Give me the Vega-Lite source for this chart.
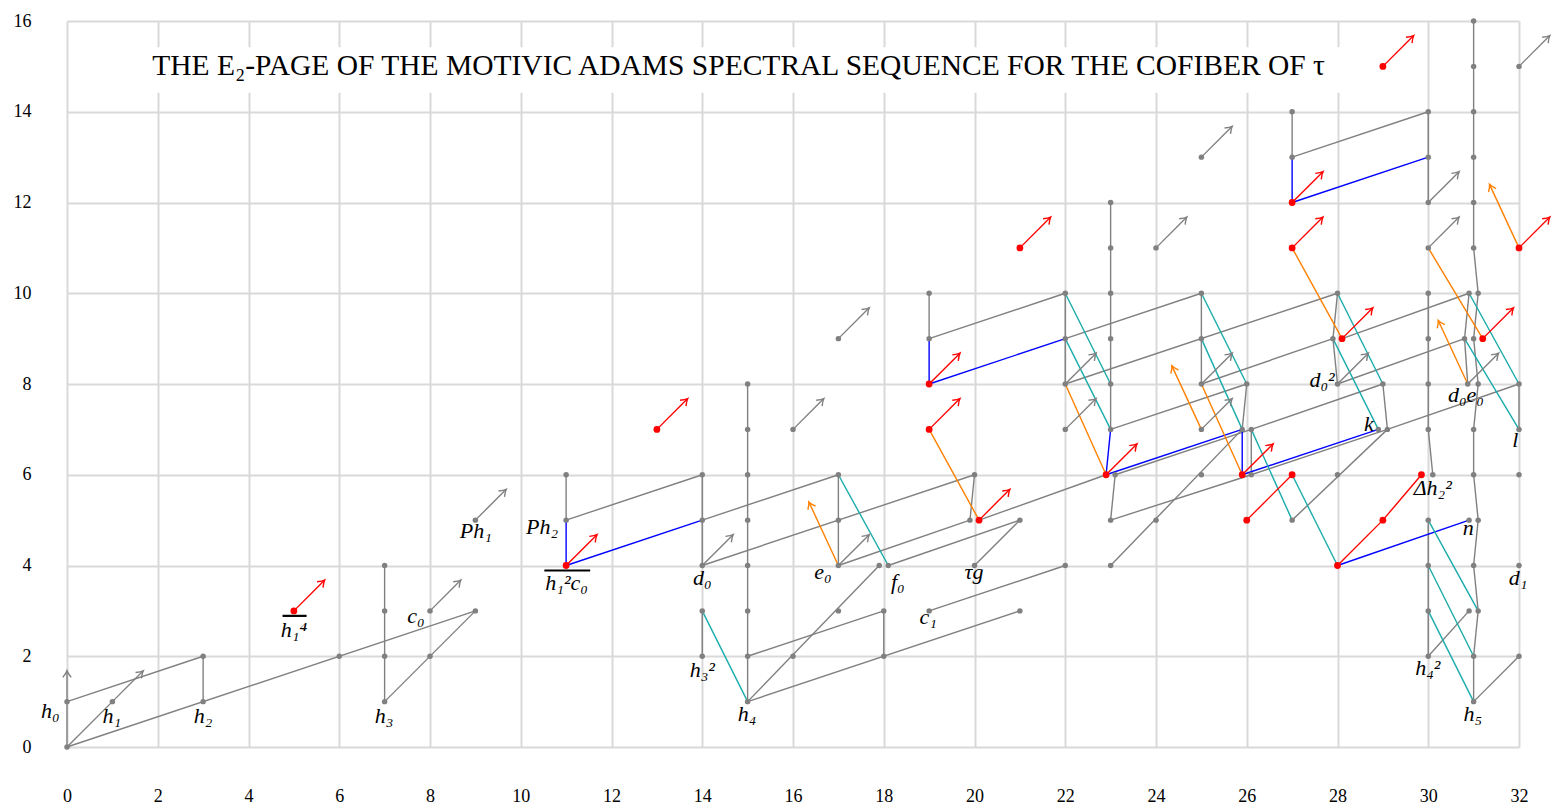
{
  "$schema": "https://vega.github.io/schema/vega-lite/v6.json",
  "width": 1452,
  "height": 726,
  "autosize": {"type": "none"},
  "padding": {"left": 67, "top": 21, "right": 34, "bottom": 62},
  "background": "white",
  "config": {"view": {"stroke": null}},
  "datasets": {
    "box": [{"s": 1.3, "s2": 28.55, "f": 14.42, "f2": 15.42}],
    "title": [{"t": "THE E₂-PAGE OF THE MOTIVIC ADAMS SPECTRAL SEQUENCE FOR THE COFIBER OF τ", "s": 14.8, "f": 15.0}],
    "pts": [
      {"s":0,"f":0,"c":"g"},{"s":0,"f":1,"c":"g"},{"s":1,"f":1,"c":"g"},{"s":3,"f":1,"c":"g"},{"s":3,"f":2,"c":"g"},{"s":6,"f":2,"c":"g"},{"s":7,"f":1,"c":"g"},{"s":7,"f":2,"c":"g"},{"s":7,"f":3,"c":"g"},{"s":7,"f":4,"c":"g"},{"s":8,"f":2,"c":"g"},{"s":8,"f":3,"c":"g"},{"s":9,"f":3,"c":"g"},{"s":9,"f":5,"c":"g"},
      {"s":11,"f":5,"c":"g"},{"s":11,"f":6,"c":"g"},{"s":14,"f":2,"c":"g"},{"s":14,"f":3,"c":"g"},{"s":14,"f":4,"c":"g"},{"s":14,"f":5,"c":"g"},{"s":14,"f":6,"c":"g"},
      {"s":15,"f":1,"c":"g"},{"s":15,"f":2,"c":"g"},{"s":15,"f":3,"c":"g"},{"s":15,"f":4,"c":"g"},{"s":15,"f":5,"c":"g"},{"s":15,"f":6,"c":"g"},{"s":15,"f":7,"c":"g"},{"s":15,"f":8,"c":"g"},
      {"s":16,"f":2,"c":"g"},{"s":16,"f":7,"c":"g"},{"s":17,"f":3,"c":"g"},{"s":17,"f":4,"c":"g"},{"s":17,"f":5,"c":"g"},{"s":17,"f":6,"c":"g"},{"s":17,"f":9,"c":"g"},
      {"s":17.9,"f":4,"c":"g"},{"s":18.1,"f":4,"c":"g"},{"s":18,"f":2,"c":"g"},{"s":18,"f":3,"c":"g"},{"s":19,"f":3,"c":"g"},{"s":19,"f":9,"c":"g"},{"s":19,"f":10,"c":"g"},
      {"s":19.9,"f":5,"c":"g"},{"s":20,"f":4,"c":"g"},{"s":20,"f":6,"c":"g"},{"s":21,"f":3,"c":"g"},{"s":21,"f":5,"c":"g"},
      {"s":22,"f":4,"c":"g"},{"s":22,"f":7,"c":"g"},{"s":22,"f":8,"c":"g"},{"s":22,"f":9,"c":"g"},{"s":22,"f":10,"c":"g"},
      {"s":23,"f":4,"c":"g"},{"s":23,"f":5,"c":"g"},{"s":23.1,"f":6,"c":"g"},{"s":23,"f":7,"c":"g"},{"s":23,"f":8,"c":"g"},{"s":23,"f":9,"c":"g"},{"s":23,"f":10,"c":"g"},{"s":23,"f":11,"c":"g"},{"s":23,"f":12,"c":"g"},
      {"s":24,"f":5,"c":"g"},{"s":24,"f":11,"c":"g"},{"s":25,"f":6,"c":"g"},{"s":25,"f":7,"c":"g"},{"s":25,"f":8,"c":"g"},{"s":25,"f":9,"c":"g"},{"s":25,"f":10,"c":"g"},{"s":25,"f":13,"c":"g"},
      {"s":25.9,"f":7,"c":"g"},{"s":26.1,"f":7,"c":"g"},{"s":26.1,"f":6,"c":"g"},{"s":26,"f":8,"c":"g"},
      {"s":27,"f":5,"c":"g"},{"s":27,"f":13,"c":"g"},{"s":27,"f":14,"c":"g"},{"s":28,"f":6,"c":"g"},{"s":28,"f":8,"c":"g"},{"s":27.9,"f":9,"c":"g"},{"s":28,"f":10,"c":"g"},
      {"s":28.9,"f":7,"c":"g"},{"s":29.1,"f":7,"c":"g"},{"s":29,"f":8,"c":"g"},
      {"s":30,"f":2,"c":"g"},{"s":30,"f":3,"c":"g"},{"s":30,"f":4,"c":"g"},{"s":30,"f":5,"c":"g"},{"s":30.1,"f":6,"c":"g"},{"s":30,"f":7,"c":"g"},{"s":30,"f":8,"c":"g"},{"s":30,"f":9,"c":"g"},{"s":30,"f":10,"c":"g"},{"s":30,"f":11,"c":"g"},{"s":30,"f":12,"c":"g"},{"s":30,"f":13,"c":"g"},{"s":30,"f":14,"c":"g"},
      {"s":30.9,"f":3,"c":"g"},{"s":30.9,"f":5,"c":"g"},{"s":30.87,"f":8,"c":"g"},{"s":30.8,"f":9,"c":"g"},{"s":30.9,"f":10,"c":"g"},
      {"s":31,"f":1,"c":"g"},{"s":31,"f":2,"c":"g"},{"s":31.1,"f":3,"c":"g"},{"s":31,"f":4,"c":"g"},{"s":31.1,"f":5,"c":"g"},{"s":31,"f":6,"c":"g"},{"s":31,"f":7,"c":"g"},{"s":31.1,"f":8,"c":"g"},{"s":31,"f":9,"c":"g"},{"s":31.1,"f":10,"c":"g"},{"s":31,"f":11,"c":"g"},{"s":31,"f":12,"c":"g"},{"s":31,"f":13,"c":"g"},{"s":31,"f":14,"c":"g"},{"s":31,"f":15,"c":"g"},{"s":31,"f":16,"c":"g"},
      {"s":32,"f":2,"c":"g"},{"s":32,"f":4,"c":"g"},{"s":32,"f":6,"c":"g"},{"s":32,"f":7,"c":"g"},{"s":32,"f":8,"c":"g"},{"s":32,"f":15,"c":"g"},
      {"s":5,"f":3,"c":"r"},{"s":11,"f":4,"c":"r"},{"s":13,"f":7,"c":"r"},{"s":19,"f":7,"c":"r"},{"s":19,"f":8,"c":"r"},{"s":20.1,"f":5,"c":"r"},{"s":21,"f":11,"c":"r"},{"s":22.9,"f":6,"c":"r"},{"s":25.9,"f":6,"c":"r"},{"s":26,"f":5,"c":"r"},{"s":27,"f":6,"c":"r"},{"s":27,"f":11,"c":"r"},{"s":27,"f":12,"c":"r"},{"s":28,"f":4,"c":"r"},{"s":28.1,"f":9,"c":"r"},{"s":29,"f":5,"c":"r"},{"s":29,"f":15,"c":"r"},{"s":29.85,"f":6,"c":"r"},{"s":31.2,"f":9,"c":"r"},{"s":32,"f":11,"c":"r"}
    ],
    "edges": [
      {"s":0,"f":0,"s2":0,"f2":1,"c":"g"},{"s":0,"f":0,"s2":1,"f2":1,"c":"g"},{"s":0,"f":0,"s2":9,"f2":3,"c":"g"},{"s":0,"f":1,"s2":3,"f2":2,"c":"g"},{"s":3,"f":1,"s2":3,"f2":2,"c":"g"},{"s":7,"f":1,"s2":7,"f2":4,"c":"g"},{"s":7,"f":1,"s2":9,"f2":3,"c":"g"},
      {"s":11,"f":5,"s2":11,"f2":6,"c":"g"},{"s":11,"f":5,"s2":14,"f2":6,"c":"g"},
      {"s":14,"f":2,"s2":14,"f2":3,"c":"g"},{"s":14,"f":4,"s2":14,"f2":6,"c":"g"},{"s":14,"f":4,"s2":20,"f2":6,"c":"g"},{"s":14,"f":5,"s2":17,"f2":6,"c":"g"},
      {"s":15,"f":1,"s2":15,"f2":8,"c":"g"},{"s":15,"f":1,"s2":17.9,"f2":4,"c":"g"},{"s":15,"f":1,"s2":21,"f2":3,"c":"g"},{"s":15,"f":2,"s2":18,"f2":3,"c":"g"},{"s":18,"f":2,"s2":18,"f2":3,"c":"g"},
      {"s":17,"f":4,"s2":17,"f2":6,"c":"g"},{"s":17,"f":4,"s2":19.9,"f2":5,"c":"g"},{"s":18.1,"f":4,"s2":21,"f2":5,"c":"g"},{"s":19,"f":3,"s2":22,"f2":4,"c":"g"},{"s":20,"f":4,"s2":21,"f2":5,"c":"g"},{"s":20,"f":6,"s2":19.9,"f2":5,"c":"g"},
      {"s":19,"f":9,"s2":19,"f2":10,"c":"g"},{"s":19,"f":9,"s2":22,"f2":10,"c":"g"},{"s":20.1,"f":5,"s2":22.9,"f2":6,"c":"g"},
      {"s":22,"f":8,"s2":22,"f2":10,"c":"g"},{"s":22,"f":9,"s2":25,"f2":10,"c":"g"},{"s":22,"f":8,"s2":28,"f2":10,"c":"g"},
      {"s":23,"f":7,"s2":23,"f2":12,"c":"g"},{"s":23,"f":7,"s2":26,"f2":8,"c":"g"},{"s":23.1,"f":6,"s2":23,"f2":5,"c":"g"},{"s":23,"f":5,"s2":26.1,"f2":6,"c":"g"},{"s":23.1,"f":6,"s2":26.1,"f2":7,"c":"g"},{"s":23,"f":4,"s2":25.9,"f2":7,"c":"g"},
      {"s":25,"f":8,"s2":25,"f2":10,"c":"g"},{"s":25,"f":8,"s2":27.9,"f2":9,"c":"g"},{"s":26,"f":8,"s2":25.9,"f2":7,"c":"g"},{"s":26.1,"f":6,"s2":26.1,"f2":7,"c":"g"},{"s":26.1,"f":7,"s2":29,"f2":8,"c":"g"},{"s":26.1,"f":6,"s2":29.1,"f2":7,"c":"g"},
      {"s":27,"f":13,"s2":27,"f2":14,"c":"g"},{"s":27,"f":13,"s2":30,"f2":14,"c":"g"},{"s":27,"f":5,"s2":29.1,"f2":7,"c":"g"},
      {"s":28,"f":10,"s2":27.9,"f2":9,"c":"g"},{"s":27.9,"f":9,"s2":28,"f2":8,"c":"g"},{"s":28,"f":8,"s2":30.8,"f2":9,"c":"g"},{"s":28.1,"f":9,"s2":30.9,"f2":10,"c":"g"},
      {"s":29,"f":8,"s2":29.1,"f2":7,"c":"g"},{"s":29.1,"f":7,"s2":32,"f2":8,"c":"g"},
      {"s":30,"f":12,"s2":30,"f2":14,"c":"g"},{"s":30,"f":7,"s2":30,"f2":10,"c":"g"},{"s":30,"f":7,"s2":30.1,"f2":6,"c":"g"},{"s":30,"f":2,"s2":30,"f2":5,"c":"g"},{"s":30,"f":2,"s2":30.9,"f2":3,"c":"g"},
      {"s":30.9,"f":10,"s2":30.8,"f2":9,"c":"g"},{"s":30.8,"f":9,"s2":30.87,"f2":8,"c":"g"},
      {"s":31,"f":1,"s2":31,"f2":2,"c":"g"},{"s":31,"f":2,"s2":31.1,"f2":3,"c":"g"},{"s":31.1,"f":3,"s2":31,"f2":4,"c":"g"},{"s":31,"f":4,"s2":31.1,"f2":5,"c":"g"},{"s":31.1,"f":5,"s2":31,"f2":6,"c":"g"},{"s":31,"f":6,"s2":31,"f2":7,"c":"g"},{"s":31,"f":7,"s2":31.1,"f2":8,"c":"g"},{"s":31.1,"f":8,"s2":31,"f2":9,"c":"g"},{"s":31,"f":9,"s2":31.1,"f2":10,"c":"g"},{"s":31.1,"f":10,"s2":31,"f2":11,"c":"g"},{"s":31,"f":11,"s2":31,"f2":16,"c":"g"},
      {"s":32,"f":7,"s2":32,"f2":8,"c":"g"},{"s":31,"f":1,"s2":32,"f2":2,"c":"g"},
      {"s":11,"f":4,"s2":11,"f2":5,"c":"b"},{"s":11,"f":4,"s2":14,"f2":5,"c":"b"},{"s":19,"f":8,"s2":19,"f2":9,"c":"b"},{"s":19,"f":8,"s2":22,"f2":9,"c":"b"},{"s":22.9,"f":6,"s2":23,"f2":7,"c":"b"},{"s":22.9,"f":6,"s2":25.9,"f2":7,"c":"b"},{"s":25.9,"f":6,"s2":25.9,"f2":7,"c":"b"},{"s":25.9,"f":6,"s2":28.9,"f2":7,"c":"b"},{"s":27,"f":12,"s2":27,"f2":13,"c":"b"},{"s":27,"f":12,"s2":30,"f2":13,"c":"b"},{"s":28,"f":4,"s2":30.9,"f2":5,"c":"b"},
      {"s":14,"f":3,"s2":15,"f2":1,"c":"c"},{"s":17,"f":6,"s2":18.1,"f2":4,"c":"c"},{"s":22,"f":10,"s2":23,"f2":8,"c":"c"},{"s":22,"f":9,"s2":23,"f2":7,"c":"c"},{"s":25,"f":10,"s2":26,"f2":8,"c":"c"},{"s":25,"f":9,"s2":25.9,"f2":7,"c":"c"},{"s":26.1,"f":7,"s2":27,"f2":5,"c":"c"},{"s":27,"f":6,"s2":28,"f2":4,"c":"c"},{"s":28,"f":10,"s2":29,"f2":8,"c":"c"},{"s":27.9,"f":9,"s2":28.9,"f2":7,"c":"c"},{"s":30.9,"f":10,"s2":32,"f2":8,"c":"c"},{"s":30.8,"f":9,"s2":32,"f2":7,"c":"c"},{"s":30,"f":5,"s2":31.1,"f2":3,"c":"c"},{"s":30,"f":4,"s2":31,"f2":2,"c":"c"},{"s":30,"f":3,"s2":31,"f2":1,"c":"c"},
      {"s":19,"f":7,"s2":20.1,"f2":5,"c":"o"},{"s":22,"f":8,"s2":22.9,"f2":6,"c":"o"},{"s":25,"f":8,"s2":25.9,"f2":6,"c":"o"},{"s":27,"f":11,"s2":28.1,"f2":9,"c":"o"},{"s":30,"f":11,"s2":31.2,"f2":9,"c":"o"},
      {"s":26,"f":5,"s2":27,"f2":6,"c":"r"},{"s":28,"f":4,"s2":29,"f2":5,"c":"r"},{"s":29,"f":5,"s2":29.85,"f2":6,"c":"r"}
    ],
    "arrows": [
      {"s":0,"f":1,"s2":0,"f2":1.68,"c":"g","dir":"n"},
      {"s":1,"f":1,"s2":1.68,"f2":1.68,"c":"g","dir":"ne"},{"s":8,"f":3,"s2":8.68,"f2":3.68,"c":"g","dir":"ne"},{"s":9,"f":5,"s2":9.68,"f2":5.68,"c":"g","dir":"ne"},{"s":14,"f":4,"s2":14.68,"f2":4.68,"c":"g","dir":"ne"},{"s":16,"f":7,"s2":16.68,"f2":7.68,"c":"g","dir":"ne"},{"s":17,"f":9,"s2":17.68,"f2":9.68,"c":"g","dir":"ne"},{"s":17,"f":4,"s2":17.68,"f2":4.68,"c":"g","dir":"ne"},{"s":22,"f":8,"s2":22.68,"f2":8.68,"c":"g","dir":"ne"},{"s":22,"f":7,"s2":22.68,"f2":7.68,"c":"g","dir":"ne"},{"s":24,"f":11,"s2":24.68,"f2":11.68,"c":"g","dir":"ne"},{"s":25,"f":13,"s2":25.68,"f2":13.68,"c":"g","dir":"ne"},{"s":25,"f":8,"s2":25.68,"f2":8.68,"c":"g","dir":"ne"},{"s":25,"f":7,"s2":25.68,"f2":7.68,"c":"g","dir":"ne"},{"s":28,"f":8,"s2":28.68,"f2":8.68,"c":"g","dir":"ne"},{"s":30,"f":12,"s2":30.68,"f2":12.68,"c":"g","dir":"ne"},{"s":30,"f":11,"s2":30.68,"f2":11.68,"c":"g","dir":"ne"},{"s":30.87,"f":8,"s2":31.55,"f2":8.68,"c":"g","dir":"ne"},{"s":32,"f":15,"s2":32.68,"f2":15.68,"c":"g","dir":"ne"},
      {"s":5,"f":3,"s2":5.68,"f2":3.68,"c":"r","dir":"ne"},{"s":11,"f":4,"s2":11.68,"f2":4.68,"c":"r","dir":"ne"},{"s":13,"f":7,"s2":13.68,"f2":7.68,"c":"r","dir":"ne"},{"s":19,"f":8,"s2":19.68,"f2":8.68,"c":"r","dir":"ne"},{"s":19,"f":7,"s2":19.68,"f2":7.68,"c":"r","dir":"ne"},{"s":20.1,"f":5,"s2":20.78,"f2":5.68,"c":"r","dir":"ne"},{"s":21,"f":11,"s2":21.68,"f2":11.68,"c":"r","dir":"ne"},{"s":22.9,"f":6,"s2":23.58,"f2":6.68,"c":"r","dir":"ne"},{"s":25.9,"f":6,"s2":26.58,"f2":6.68,"c":"r","dir":"ne"},{"s":27,"f":12,"s2":27.68,"f2":12.68,"c":"r","dir":"ne"},{"s":27,"f":11,"s2":27.68,"f2":11.68,"c":"r","dir":"ne"},{"s":28.1,"f":9,"s2":28.78,"f2":9.68,"c":"r","dir":"ne"},{"s":29,"f":15,"s2":29.68,"f2":15.68,"c":"r","dir":"ne"},{"s":31.2,"f":9,"s2":31.88,"f2":9.68,"c":"r","dir":"ne"},{"s":32,"f":11,"s2":32.68,"f2":11.68,"c":"r","dir":"ne"},
      {"s":17,"f":4,"s2":16.35,"f2":5.4,"c":"o","dir":"nw"},{"s":25,"f":7,"s2":24.35,"f2":8.4,"c":"o","dir":"nw"},{"s":30.87,"f":8,"s2":30.22,"f2":9.4,"c":"o","dir":"nw"},{"s":32,"f":11,"s2":31.35,"f2":12.4,"c":"o","dir":"nw"}
    ],
    "labels": [
      {"t":"h₀","s":-0.37,"f":0.79},{"t":"h₁","s":0.99,"f":0.68},{"t":"h₂","s":3.0,"f":0.68},{"t":"h₃","s":6.99,"f":0.68},{"t":"h₁⁴","s":5.0,"f":2.58},{"t":"c₀","s":7.69,"f":2.89},
      {"t":"Ph₁","s":9.01,"f":4.76},{"t":"Ph₂","s":10.47,"f":4.85},{"t":"h₁²c₀","s":11.01,"f":3.61},{"t":"d₀","s":14.0,"f":3.72},{"t":"h₃²","s":14.0,"f":1.7},{"t":"h₄","s":14.99,"f":0.73},
      {"t":"e₀","s":16.66,"f":3.86},{"t":"f₀","s":18.31,"f":3.64},{"t":"c₁","s":18.98,"f":2.87},{"t":"τg","s":19.99,"f":3.86},
      {"t":"d₀²","s":27.66,"f":8.09},{"t":"k","s":28.69,"f":7.12},{"t":"d₀e₀","s":30.83,"f":7.76},{"t":"l","s":31.92,"f":6.77},{"t":"Δh₂²","s":30.1,"f":5.71},{"t":"n","s":30.88,"f":4.83},{"t":"d₁","s":31.98,"f":3.72},{"t":"h₄²","s":29.99,"f":1.74},{"t":"h₅","s":30.98,"f":0.73}
    ],
    "bars": [{"s":4.75,"s2":5.28,"f":2.89},{"s":10.52,"s2":11.53,"f":3.89}]
  },
  "encoding": {
    "x": {"field": "s", "type": "quantitative", "title": null,
      "scale": {"domain": [0, 32], "nice": false, "zero": false},
      "axis": {"values": [0,2,4,6,8,10,12,14,16,18,20,22,24,26,28,30,32], "grid": true, "gridColor": "#d9d9d9", "gridWidth": 2, "domain": false, "ticks": false, "tickSize": 0, "labelPadding": 40, "labelFont": "Liberation Serif", "labelFontSize": 18, "labelColor": "#000000", "labelFlush": false, "labelOverlap": false}},
    "y": {"field": "f", "type": "quantitative", "title": null,
      "scale": {"domain": [0, 16], "nice": false, "zero": false},
      "axis": {"values": [0,2,4,6,8,10,12,14,16], "grid": true, "gridColor": "#d9d9d9", "gridWidth": 2, "domain": false, "ticks": false, "tickSize": 0, "labelPadding": 36, "labelFont": "Liberation Serif", "labelFontSize": 18, "labelColor": "#000000", "labelFlush": false, "labelOverlap": false}}
  },
  "layer": [
    {"data": {"name": "box"}, "mark": {"type": "rect", "fill": "white"},
     "encoding": {"x2": {"field": "s2"}, "y2": {"field": "f2"}}},
    {"data": {"name": "title"}, "mark": {"type": "text", "font": "Liberation Serif", "fontSize": 29.5, "align": "center", "baseline": "middle", "color": "#000000"},
     "encoding": {"text": {"field": "t"}}},
    {"data": {"name": "edges"}, "mark": {"type": "rule", "strokeWidth": 1.4},
     "encoding": {"x2": {"field": "s2"}, "y2": {"field": "f2"},
       "color": {"field": "c", "type": "nominal", "legend": null, "scale": {"domain": ["g","r","b","c","o"], "range": ["#808080","#ff0000","#0000ff","#1aabab","#ff8000"]}}}},
    {"data": {"name": "arrows"}, "mark": {"type": "rule", "strokeWidth": 1.4},
     "encoding": {"x2": {"field": "s2"}, "y2": {"field": "f2"},
       "color": {"field": "c", "type": "nominal", "legend": null, "scale": {"domain": ["g","r","b","c","o"], "range": ["#808080","#ff0000","#0000ff","#1aabab","#ff8000"]}}}},
    {"data": {"name": "arrows"}, "transform": [{"filter": "datum.dir === 'ne'"}],
     "mark": {"type": "point", "shape": "M-0.6,0.95Q-0.12,0.35,0,0Q0.12,0.35,0.6,0.95", "size": 196, "filled": false, "strokeWidth": 1.4, "angle": 45, "opacity": 1},
     "encoding": {
       "x": {"field": "s2", "type": "quantitative", "title": null, "scale": {"domain": [0, 32], "nice": false, "zero": false},
         "axis": {"values": [0,2,4,6,8,10,12,14,16,18,20,22,24,26,28,30,32], "grid": true, "gridColor": "#d9d9d9", "gridWidth": 2, "domain": false, "ticks": false, "tickSize": 0, "labelPadding": 40, "labelFont": "Liberation Serif", "labelFontSize": 18, "labelColor": "#000000", "labelFlush": false, "labelOverlap": false}},
       "y": {"field": "f2", "type": "quantitative", "title": null, "scale": {"domain": [0, 16], "nice": false, "zero": false},
         "axis": {"values": [0,2,4,6,8,10,12,14,16], "grid": true, "gridColor": "#d9d9d9", "gridWidth": 2, "domain": false, "ticks": false, "tickSize": 0, "labelPadding": 36, "labelFont": "Liberation Serif", "labelFontSize": 18, "labelColor": "#000000", "labelFlush": false, "labelOverlap": false}},
       "color": {"field": "c", "type": "nominal", "legend": null, "scale": {"domain": ["g","r","b","c","o"], "range": ["#808080","#ff0000","#0000ff","#1aabab","#ff8000"]}}}},
    {"data": {"name": "arrows"}, "transform": [{"filter": "datum.dir === 'n'"}],
     "mark": {"type": "point", "shape": "M-0.6,0.95Q-0.12,0.35,0,0Q0.12,0.35,0.6,0.95", "size": 196, "filled": false, "strokeWidth": 1.4, "angle": 0, "opacity": 1},
     "encoding": {
       "x": {"field": "s2", "type": "quantitative", "title": null, "scale": {"domain": [0, 32], "nice": false, "zero": false},
         "axis": {"values": [0,2,4,6,8,10,12,14,16,18,20,22,24,26,28,30,32], "grid": true, "gridColor": "#d9d9d9", "gridWidth": 2, "domain": false, "ticks": false, "tickSize": 0, "labelPadding": 40, "labelFont": "Liberation Serif", "labelFontSize": 18, "labelColor": "#000000", "labelFlush": false, "labelOverlap": false}},
       "y": {"field": "f2", "type": "quantitative", "title": null, "scale": {"domain": [0, 16], "nice": false, "zero": false},
         "axis": {"values": [0,2,4,6,8,10,12,14,16], "grid": true, "gridColor": "#d9d9d9", "gridWidth": 2, "domain": false, "ticks": false, "tickSize": 0, "labelPadding": 36, "labelFont": "Liberation Serif", "labelFontSize": 18, "labelColor": "#000000", "labelFlush": false, "labelOverlap": false}},
       "color": {"field": "c", "type": "nominal", "legend": null, "scale": {"domain": ["g","r","b","c","o"], "range": ["#808080","#ff0000","#0000ff","#1aabab","#ff8000"]}}}},
    {"data": {"name": "arrows"}, "transform": [{"filter": "datum.dir === 'nw'"}],
     "mark": {"type": "point", "shape": "M-0.6,0.95Q-0.12,0.35,0,0Q0.12,0.35,0.6,0.95", "size": 196, "filled": false, "strokeWidth": 1.4, "angle": 335, "opacity": 1},
     "encoding": {
       "x": {"field": "s2", "type": "quantitative", "title": null, "scale": {"domain": [0, 32], "nice": false, "zero": false},
         "axis": {"values": [0,2,4,6,8,10,12,14,16,18,20,22,24,26,28,30,32], "grid": true, "gridColor": "#d9d9d9", "gridWidth": 2, "domain": false, "ticks": false, "tickSize": 0, "labelPadding": 40, "labelFont": "Liberation Serif", "labelFontSize": 18, "labelColor": "#000000", "labelFlush": false, "labelOverlap": false}},
       "y": {"field": "f2", "type": "quantitative", "title": null, "scale": {"domain": [0, 16], "nice": false, "zero": false},
         "axis": {"values": [0,2,4,6,8,10,12,14,16], "grid": true, "gridColor": "#d9d9d9", "gridWidth": 2, "domain": false, "ticks": false, "tickSize": 0, "labelPadding": 36, "labelFont": "Liberation Serif", "labelFontSize": 18, "labelColor": "#000000", "labelFlush": false, "labelOverlap": false}},
       "color": {"field": "c", "type": "nominal", "legend": null, "scale": {"domain": ["g","r","b","c","o"], "range": ["#808080","#ff0000","#0000ff","#1aabab","#ff8000"]}}}},
    {"data": {"name": "pts"}, "mark": {"type": "point", "filled": true, "opacity": 1, "shape": "circle"},
     "encoding": {
       "color": {"field": "c", "type": "nominal", "legend": null, "scale": {"domain": ["g","r","b","c","o"], "range": ["#808080","#ff0000","#0000ff","#1aabab","#ff8000"]}},
       "size": {"field": "c", "type": "nominal", "legend": null, "scale": {"domain": ["g","r"], "range": [30, 46]}}}},
    {"data": {"name": "bars"}, "mark": {"type": "rule", "color": "#000000", "strokeWidth": 2.2},
     "encoding": {"x2": {"field": "s2"}}},
    {"data": {"name": "labels"}, "mark": {"type": "text", "font": "Liberation Serif", "fontStyle": "italic", "fontSize": 22, "align": "center", "baseline": "middle", "color": "#000000"},
     "encoding": {"text": {"field": "t"}}}
  ]
}
